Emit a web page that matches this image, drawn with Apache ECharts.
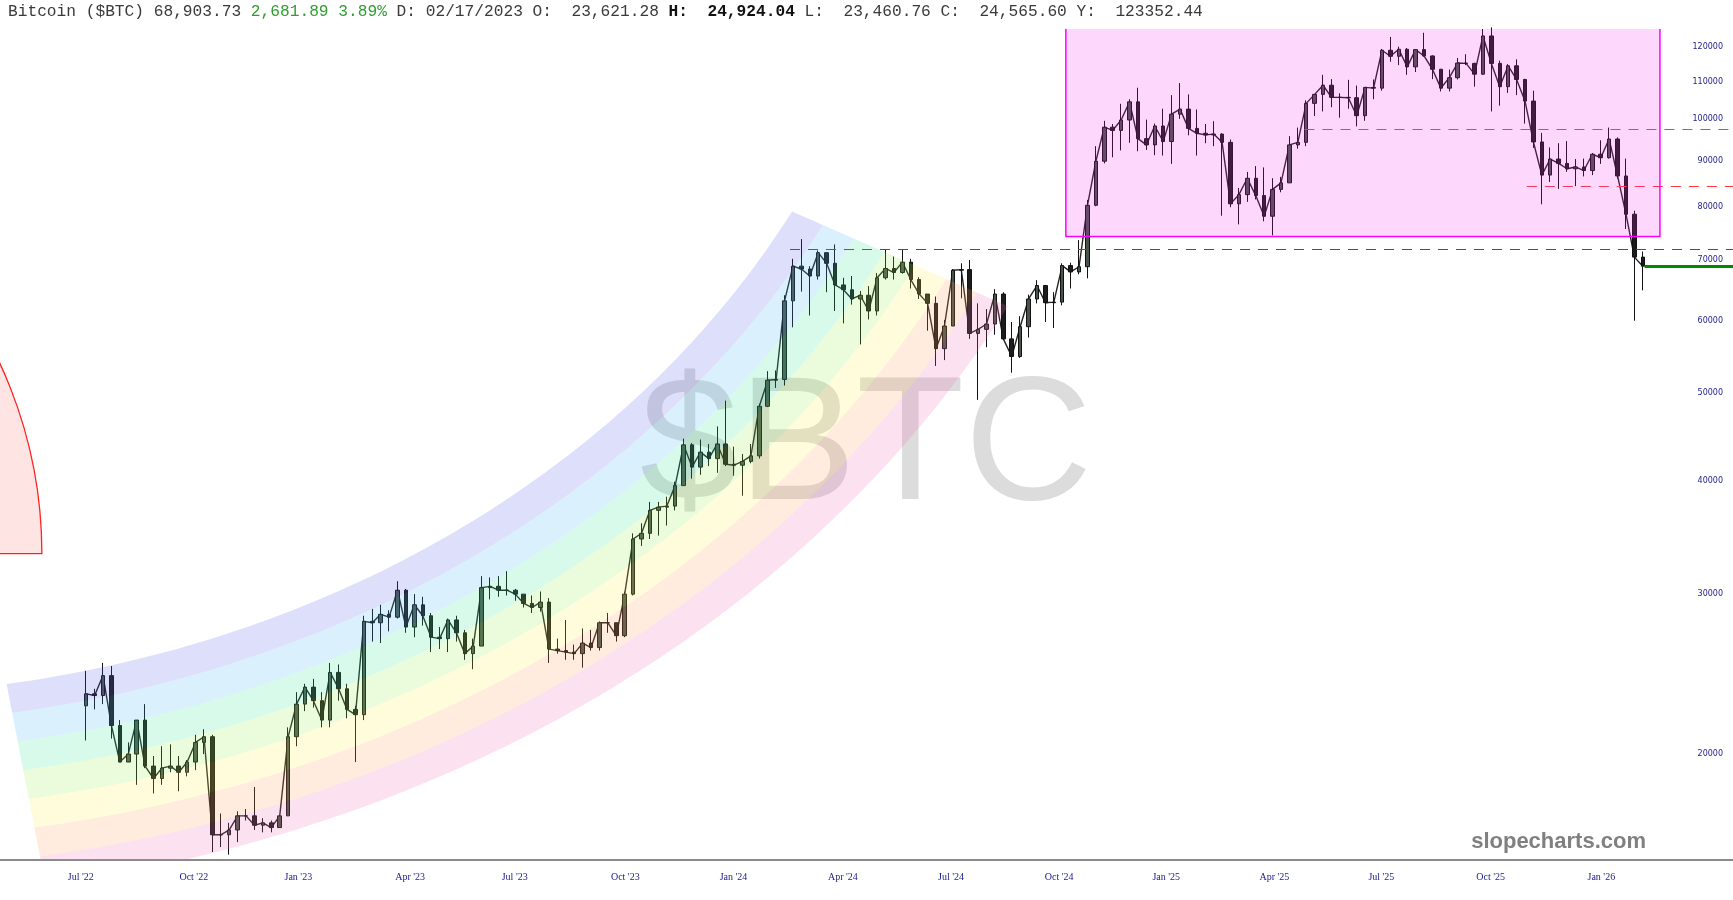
<!DOCTYPE html>
<html>
<head>
<meta charset="utf-8">
<title>Bitcoin ($BTC)</title>
<script src="https://cdn.jsdelivr.net/npm/echarts@6/dist/echarts.min.js"></script>
<style>
  html, body { margin: 0; padding: 0; background: #fff; }
  #chart { width: 1733px; height: 900px; }
</style>
</head>
<body>
<div id="chart"></div>
<script>
// weekly candles, first week starts Monday 2022-07-25, open of a week = previous close
const firstWeek = '2022-07-25';
const firstOpen = 22600;

const weekHigh = [
  24700, 23600, 25200, 25000, 21800, 20600, 21800, 22700, 19900, 20400, 20500, 19900, 19700, 21000, 21300, 21000,
  17200, 16800, 17300, 17400, 18400, 17000, 16900,
  17100, 21400, 23400, 23900, 24200, 23400, 25200, 25100, 23900, 22600, 28400, 28900, 29200, 28800, 31000, 30400,
  30000, 29800, 28600, 27600, 28200, 28400, 27400, 26800, 31400, 31300, 31400, 31800, 30400, 30000, 29900, 30200,
  29700, 26800, 28100, 26400, 27500, 27400, 28000, 28600, 27900, 30200, 35000, 35900, 37900, 37900, 38400, 39900,
  44500, 44000, 44400, 43900,
  45900, 49000, 43600, 42800, 43900, 48600, 52800, 52900, 64000, 70200, 73800, 68900, 71700, 71300, 72800, 66900,
  67200, 64700, 65500, 67700, 71900, 70600, 71900, 70200, 67000, 64200, 63800, 60100, 68400, 69400, 70000, 62700,
  61800, 65000, 64500, 59800, 60700, 64100, 66500, 65700, 64500, 69400, 69500, 73600, 81500, 93400, 99600, 98800,
  104000, 105200, 108300, 99900, 98900,
  102700, 106300, 109600, 106500, 102500, 98800, 99500, 96500, 95000, 84000, 87500, 88800, 88500, 86100, 86400, 95800,
  97900, 104900, 106600, 111900, 110700, 106800, 110500, 108900, 108500, 110600, 119500, 123200, 120200, 119800,
  119300, 124500, 117600, 113600, 113400, 116800, 117900, 115400, 125700, 126200, 116000, 115000, 116400, 110800,
  107500, 96600, 93100, 94100, 94600, 90400, 90500, 91800,
  94800, 97900, 95500, 90500, 79300, 71500
];
const weekLow = [
  20700, 22400, 22700, 20800, 19600, 19600, 18500, 19300, 18100, 18500, 19100, 18200, 18900, 19200, 20000, 15600,
  15800, 15500, 16000, 16900, 16500, 16400, 16400,
  16600, 17100, 20400, 22300, 22500, 21400, 21400, 22900, 21900, 19600, 21800, 26600, 26500, 27300, 28200, 27200,
  26900, 27700, 25900, 26100, 25900, 26600, 25400, 24800, 26300, 29600, 29800, 29900, 29500, 29000, 28600, 28700,
  25200, 25800, 25400, 25400, 24900, 26000, 26000, 27200, 26600, 26900, 29900, 33900, 34500, 34800, 35700, 37100,
  39500, 40200, 40600, 41500,
  40800, 41500, 40500, 38500, 41800, 42300, 48200, 50600, 50900, 59000, 64600, 60800, 66600, 64500, 61500, 59600,
  62500, 56500, 60200, 60800, 66600, 66600, 67600, 65100, 63400, 58500, 53500, 54300, 59200, 63500, 57300, 49100,
  56100, 57900, 57200, 52600, 54600, 57500, 62700, 59800, 58900, 62400, 65100, 67500, 66800, 80200, 89400, 90800,
  92400, 94200, 92200, 92500, 91300,
  91200, 89300, 100100, 96000, 91200, 94100, 93400, 78300, 80000, 76600, 81100, 81600, 77200, 74500, 83100, 85100,
  92800, 93400, 100800, 102000, 103100, 100400, 102700, 98200, 99600, 105200, 107500, 115700, 114700, 111900,
  112700, 117200, 110700, 107300, 107300, 110600, 114700, 108600, 111900, 102000, 103500, 106900, 106300, 98900,
  93000, 80600, 85300, 83800, 87500, 84400, 86500, 86800,
  89300, 90500, 86000, 75700, 60000, 64800
];
const weekClose = [
  23300, 23200, 24400, 21500, 19600, 20000, 21800, 19400, 18800, 19300, 19400, 19100, 19600, 20600, 20900, 16300,
  16300, 16500, 17100, 17100, 16700, 16800, 16600,
  17100, 20900, 22700, 23700, 22900, 21800, 24600, 23600, 22400, 22100, 28000, 27900, 28500, 28300, 30300, 27600,
  29200, 28400, 26900, 26800, 28100, 27200, 25800, 26300, 30500, 30600, 30300, 30300, 30000, 29300, 29000, 29400,
  26100, 26000, 25900, 25800, 26500, 26200, 27900, 27900, 27000, 30000, 34500, 35000, 37100, 37400, 37500, 39500,
  43800, 41400, 43000, 42300,
  43900, 41700, 41600, 42000, 42600, 48300, 51600, 51700, 63100, 68900, 68400, 67200, 71300, 69400, 65700, 64900,
  63400, 64000, 61500, 66900, 68500, 67800, 69600, 66600, 64200, 62700, 55900, 59200, 68200, 68300, 58100, 58700,
  59500, 64200, 57300, 54800, 59100, 63400, 65600, 62800, 62900, 69000, 67900, 68800, 80400, 89900, 98000, 97200,
  99800, 104500, 95200, 93700, 98300,
  94500, 101300, 102600, 97700, 96500, 96100, 96300, 94300, 80700, 82600, 86100, 82400, 78200, 83700, 85100, 93700,
  94300, 104100, 106500, 109000, 105700, 105700, 105600, 100900, 108400, 108200, 119100, 117300, 119400, 114200,
  119300, 117400, 113500, 108200, 111100, 115300, 115200, 112100, 123500, 115200, 108600, 114500, 110600, 104700,
  94400, 86800, 90400, 89400, 88200, 88600, 87800, 91500,
  90700, 95100, 86600, 78600, 70500, 68900
];

const yTicks = [20000, 30000, 40000, 50000, 60000, 70000, 80000, 90000, 100000, 110000, 120000];
const xTickDates = [
  '2022-07-24', '2022-10-26', '2023-01-21', '2023-04-24', '2023-07-20', '2023-10-20', '2024-01-18', '2024-04-18',
  '2024-07-17', '2024-10-15', '2025-01-12', '2025-04-12', '2025-07-10', '2025-10-09', '2026-01-09'
];
const monthNames = ['Jan', 'Feb', 'Mar', 'Apr', 'May', 'Jun', 'Jul', 'Aug', 'Sep', 'Oct', 'Nov', 'Dec'];

// horizontal levels: start date and price
const levelStarts = ['2024-03-05', '2025-05-07', '2025-11-08', '2026-02-14'];
const levelValues = [71880, 97500, 84300, 68903.73];

// drawn zone (date range / price range)
const zoneDates = ['2024-10-20T12:00', '2026-02-26T18:00'];
const zonePrices = [128000, 74300];

// anchors of the drawn arcs
const rainbowCenter = ['2021-12-30', 230000];
const arcCenter = ['2021-06-11', 33250];

const X_MIN = '2022-05-17T19:00';
const X_MAX = '2026-04-28T13:00';

const DAY = 864e5;
const ts = function (s) { return Date.parse(s.length <= 10 ? s + 'T00:00:00Z' : s + ':00Z'); };
const t0 = ts(firstWeek);
const weekTime = weekClose.map(function (c, i) { return t0 + (i * 7 + 3.5) * DAY; });
const candles = weekClose.map(function (c, i) {
  const open = i === 0 ? firstOpen : weekClose[i - 1];
  return [weekTime[i], open, c, weekLow[i], weekHigh[i]];
});
const closeLine = weekClose.map(function (c, i) { return [weekTime[i], c]; });

const rainbowColors = [
  'rgba(90,100,235,0.2)', 'rgba(70,180,240,0.2)', 'rgba(60,230,150,0.2)', 'rgba(150,240,80,0.2)',
  'rgba(255,240,80,0.2)', 'rgba(255,160,90,0.2)', 'rgba(240,110,180,0.2)'
];
const RX = 1083, RY = 905, T_FROM = 0.4835, T_TO = 1.41, BAND = 0.225 / 7;

function renderRainbow(params, api) {
  const c = api.coord([api.value(0), api.value(1)]);
  const children = [];
  const steps = 80;
  for (let k = 0; k < rainbowColors.length; k++) {
    const s0 = 1 + k * BAND, s1 = 1 + (k + 1) * BAND;
    const pts = [];
    for (let i = 0; i <= steps; i++) {
      const t = T_FROM + (T_TO - T_FROM) * i / steps;
      pts.push([c[0] + RX * s0 * Math.cos(t), c[1] + RY * s0 * Math.sin(t)]);
    }
    for (let i = steps; i >= 0; i--) {
      const t = T_FROM + (T_TO - T_FROM) * i / steps;
      pts.push([c[0] + RX * s1 * Math.cos(t), c[1] + RY * s1 * Math.sin(t)]);
    }
    children.push({ type: 'polygon', shape: { points: pts }, style: { fill: rainbowColors[k] } });
  }
  return { type: 'group', children: children };
}

function renderArc(params, api) {
  const c = api.coord([api.value(0), api.value(1)]);
  return {
    type: 'sector',
    shape: { cx: c[0], cy: c[1], r0: 0, r: 451.5, startAngle: -Math.PI / 2, endAngle: 0, clockwise: true },
    style: { fill: 'rgba(255,0,0,0.105)', stroke: '#ff2020', lineWidth: 1.3 }
  };
}

function renderZone(params, api) {
  const p0 = api.coord([api.value(0), api.value(1)]);
  const p1 = api.coord([api.value(2), api.value(3)]);
  return {
    type: 'rect',
    shape: { x: p0[0], y: p0[1], width: p1[0] - p0[0], height: p1[1] - p0[1] },
    style: { fill: 'rgba(245,40,240,0.18)', stroke: '#ff00ff', lineWidth: 1.5 }
  };
}

const xEnd = ts(X_MAX);
const levelStyles = [
  { color: '#3a3aff', width: 1, type: [10, 8] },
  { color: '#ff3a3a', width: 1, type: [10, 8] },
  { color: '#ff3a3a', width: 1, type: [10, 8] },
  { color: '#008a00', width: 3, type: 'solid' }
];

const chart = echarts.init(document.getElementById('chart'));
chart.setOption({
  animation: false,
  backgroundColor: '#fff',
  grid: { left: 0, right: 0, top: 29, bottom: 40, containLabel: false },
  xAxis: {
    type: 'value',
    min: ts(X_MIN),
    max: xEnd,
    axisLine: { show: true, lineStyle: { color: '#8a8a8a', width: 2 } },
    axisTick: { show: false },
    splitLine: { show: false },
    axisLabel: {
      customValues: xTickDates.map(ts),
      formatter: function (v) {
        const d = new Date(v);
        return monthNames[d.getUTCMonth()] + " '" + String(d.getUTCFullYear()).slice(2);
      },
      color: '#1c1c8c',
      fontFamily: 'Liberation Serif',
      fontSize: 10,
      margin: 12
    }
  },
  yAxis: {
    type: 'log',
    logBase: 10,
    min: 15290,
    max: 125700,
    position: 'right',
    axisLine: { show: false },
    axisTick: { show: false },
    splitLine: { show: false },
    axisLabel: {
      inside: true,
      customValues: yTicks,
      formatter: function (v) { return String(Math.round(v)); },
      color: '#1c1c8c',
      fontFamily: 'DejaVu Sans',
      fontSize: 8,
      margin: 10
    }
  },
  series: [
    {
      type: 'line',
      z: 2,
      silent: true,
      symbol: 'none',
      data: closeLine,
      lineStyle: { color: '#222', width: 1.4 }
    },
    {
      type: 'candlestick',
      z: 3,
      barWidth: 4,
      encode: { x: 0, y: [1, 2, 3, 4] },
      data: candles,
      itemStyle: {
        color: '#46544a',
        color0: '#1c1c1c',
        borderColor: '#111',
        borderColor0: '#111',
        borderWidth: 1
      },
      markLine: {
        silent: true,
        symbol: 'none',
        label: { show: false },
        data: levelStarts.map(function (s, i) {
          return [
            { coord: [ts(s), levelValues[i]], lineStyle: levelStyles[i] },
            { coord: [xEnd, levelValues[i]] }
          ];
        })
      }
    },
    {
      type: 'custom',
      name: 'rainbow',
      z: 5,
      silent: true,
      clip: true,
      renderItem: renderRainbow,
      data: [[ts(rainbowCenter[0]), rainbowCenter[1]]]
    },
    {
      type: 'custom',
      name: 'arc',
      z: 5,
      silent: true,
      clip: true,
      renderItem: renderArc,
      data: [[ts(arcCenter[0]), arcCenter[1]]]
    },
    {
      type: 'custom',
      name: 'zone',
      z: 5,
      silent: true,
      clip: true,
      encode: { x: [0, 2], y: [1, 3] },
      renderItem: renderZone,
      data: [[ts(zoneDates[0]), zonePrices[0], ts(zoneDates[1]), zonePrices[1]]]
    }
  ],
  graphic: [
    {
      type: 'text', z: 1, silent: true, x: 866, y: 450,
      style: {
        text: '$BTC', fill: '#dcdcdc', align: 'center', verticalAlign: 'middle',
        fontFamily: 'Liberation Sans', fontSize: 177
      }
    },
    {
      type: 'text', z: 10, silent: true, left: 8, top: 4,
      style: {
        text: '{a|Bitcoin ($BTC) 68,903.73 }{g|2,681.89 3.89%}{a| D: 02/17/2023 O:  23,621.28 }{b|H:  24,924.04}{a| L:  23,460.76 C:  24,565.60 Y:  123352.44}',
        fontFamily: 'Liberation Mono', fontSize: 16.2, fill: '#333',
        rich: {
          a: { fontFamily: 'Liberation Mono', fontSize: 16.2, fill: '#3a3a3a' },
          g: { fontFamily: 'Liberation Mono', fontSize: 16.2, fill: '#2e9e2e' },
          b: { fontFamily: 'Liberation Mono', fontSize: 16.2, fill: '#111', fontWeight: 'bold' }
        }
      }
    },
    {
      type: 'text', z: 10, silent: true, right: 87, top: 831,
      style: {
        text: 'slopecharts.com', fill: '#808080',
        fontFamily: 'Liberation Sans', fontSize: 22, fontWeight: 'bold'
      }
    }
  ]
});
</script>
</body>
</html>
